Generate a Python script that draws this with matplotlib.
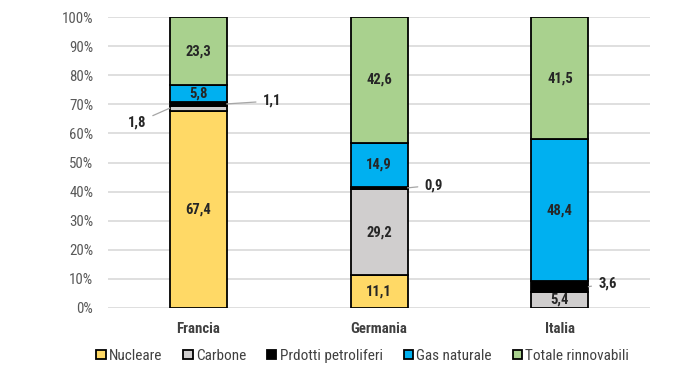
import matplotlib
matplotlib.use("Agg")
import matplotlib.pyplot as plt
from matplotlib import font_manager
import numpy as np
from matplotlib.ticker import PercentFormatter

countries = ["Francia", "Germania", "Italia"]
sources = ["Nucleare", "Carbone", "Prdotti petroliferi", "Gas naturale", "Totale rinnovabili"]
nucleare = [67.4, 11.1, 0.0]
carbone = [1.8, 29.2, 5.4]
petroliferi = [1.1, 0.9, 3.6]
gas = [5.8, 14.9, 48.4]
rinnovabili = [23.3, 42.6, 41.5]
colors = ["#FFD966", "#D0CECE", "#000000", "#00B0F0", "#A9D18E"]

# the original uses Arial Narrow; take a condensed face if there is one
installed = {f.name for f in font_manager.fontManager.ttflist}
narrow = None
for cand in ["Liberation Sans Narrow", "DejaVu Sans Condensed", "Roboto Condensed"]:
    if cand in installed:
        narrow = cand
        break
if narrow:
    plt.rcParams["font.family"] = [narrow, "DejaVu Sans"]
    scale = 1.0
    if narrow == "DejaVu Sans Condensed":
        scale = 0.92
    plt.rcParams["font.stretch"] = "condensed"
else:
    plt.rcParams["font.family"] = ["Liberation Sans", "DejaVu Sans"]
    scale = 0.86

fs_tick = 10.7 * scale
fs_lab = 10.5 * scale

series = np.array([nucleare, carbone, petroliferi, gas, rinnovabili])
shares = series / series.sum(axis=0) * 100

fig = plt.figure(figsize=(7, 3.82), dpi=100)
ax = fig.add_axes([0.154, 0.194, 0.775, 0.761])

x = np.arange(len(countries))
bottom = np.zeros(len(countries))
for name, vals, col in zip(sources, shares, colors):
    ax.bar(x, vals, 0.315, bottom=bottom, color=col, edgecolor="black",
           linewidth=1.3, label=name, zorder=3)
    bottom += vals

# thin segments get a leader line: (country, source) -> (side, dx, dy)
outside = {(0, 1): ("left", 0.13, -5.0), (0, 2): ("right", 0.2, 1.0),
           (1, 2): ("right", 0.095, 0.9), (2, 2): ("right", 0.055, 1.2)}
for si, vals in enumerate(series):
    for ci, v in enumerate(vals):
        if v == 0:
            continue
        txt = f"{v:.1f}".replace(".", ",")
        ymid = shares[:si, ci].sum() + shares[si, ci] / 2
        spec = outside.get((ci, si))
        if spec is None:
            ax.text(x[ci], ymid, txt, ha="center", va="center", fontsize=fs_lab,
                    fontweight="bold", color="#262626", zorder=4)
        else:
            side, dx, dy = spec
            sgn = -1 if side == "left" else 1
            xe = x[ci] + sgn * 0.1575
            ax.annotate(txt, xy=(xe, ymid), xytext=(xe + sgn * dx, ymid + dy),
                        ha="right" if side == "left" else "left", va="center",
                        fontsize=fs_lab, fontweight="bold", color="#262626",
                        arrowprops=dict(arrowstyle="-", color="#A6A6A6", lw=0.9,
                                        shrinkA=3, shrinkB=0))

ax.set_xlim(-0.5, 2.5)
ax.set_ylim(0, 100)
ax.set_yticks(np.arange(0, 101, 10))
ax.yaxis.set_major_formatter(PercentFormatter(decimals=0))
ax.set_xticks(x)
ax.set_xticklabels(countries, fontsize=fs_tick, fontweight="bold", color="#404040")
ax.tick_params(axis="y", labelsize=fs_tick, colors="#595959", length=0, pad=10.5)
ax.tick_params(axis="x", length=0, pad=10)
ax.grid(axis="y", color="#D9D9D9", linewidth=1.2, zorder=0)
for s in ax.spines.values():
    s.set_visible(False)

ax.legend(loc="center", bbox_to_anchor=(0.47, -0.165), ncol=5, frameon=False,
          fontsize=fs_tick + 0.3, handlelength=0.6, handleheight=0.6, handletextpad=0.2,
          columnspacing=1.4, labelcolor="#404040")

fig.savefig("out.png", dpi=100)
